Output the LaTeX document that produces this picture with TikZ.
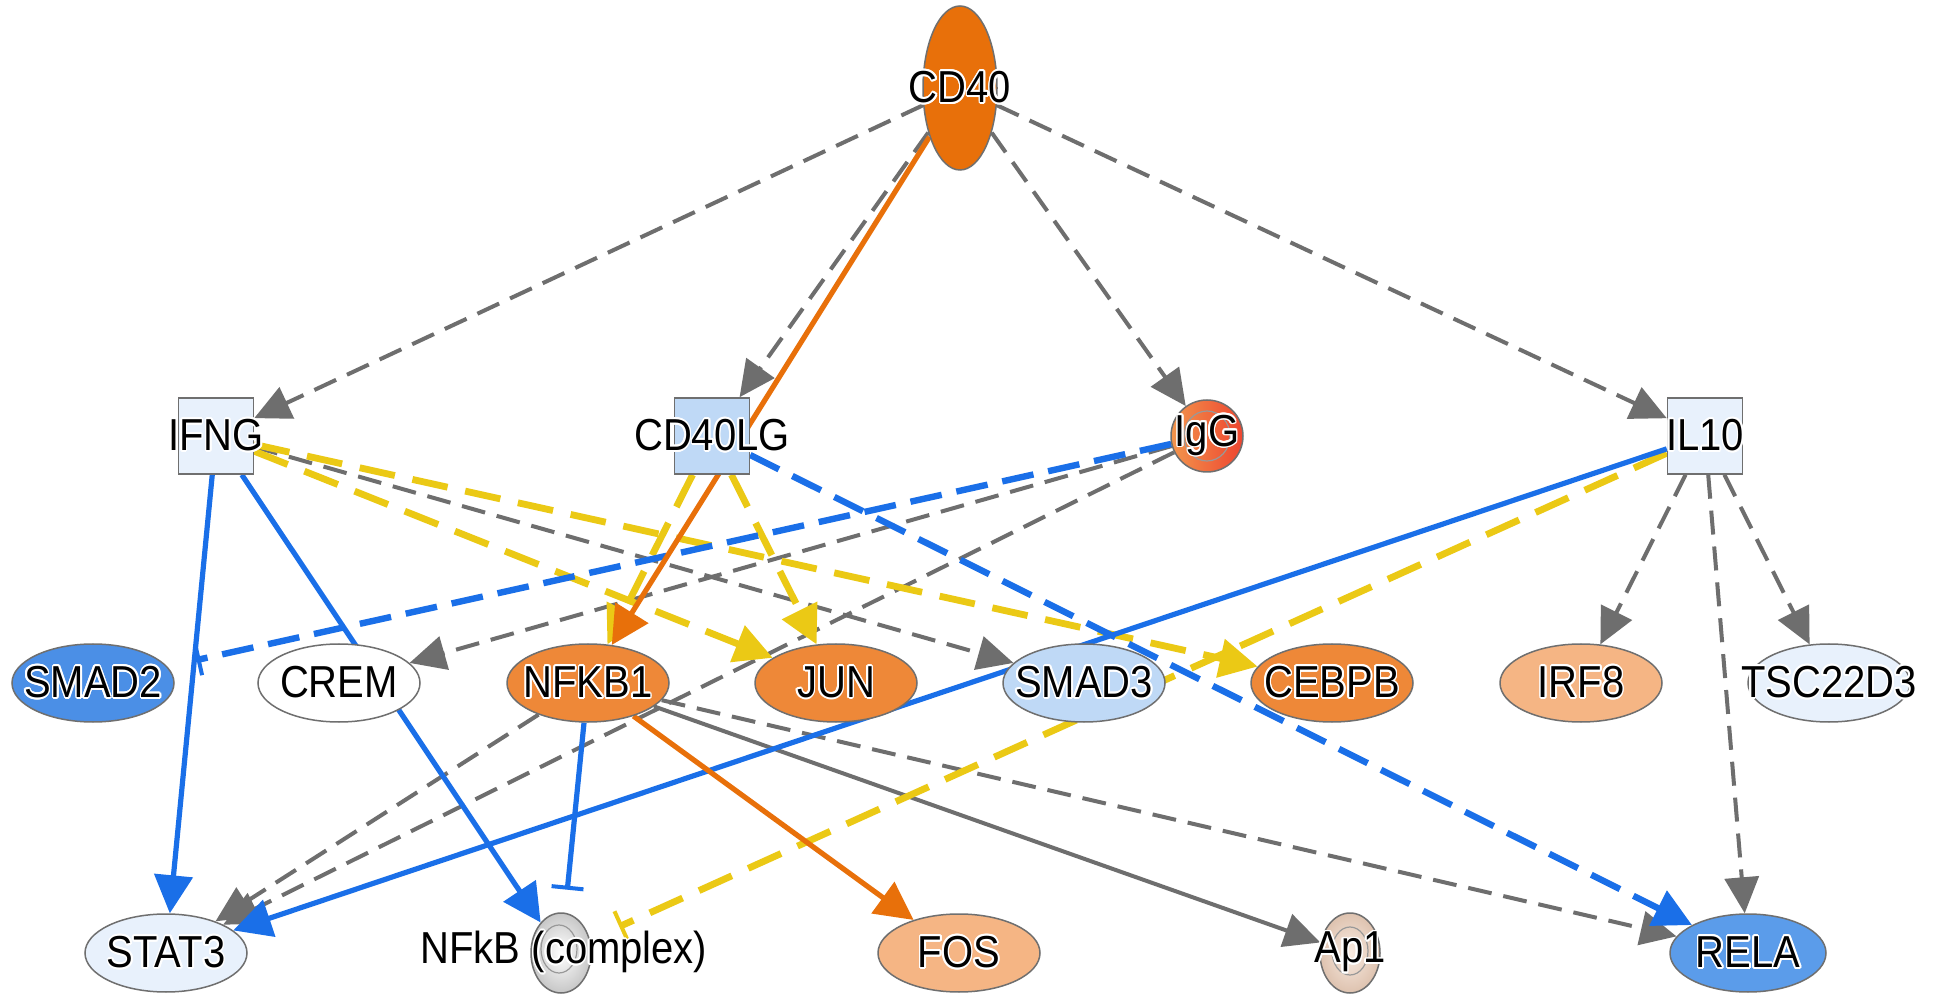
\documentclass[tikz,border=0pt]{standalone}
\usepackage{fontspec}
\setmainfont{Liberation Sans}
\usepackage{graphicx}
\usepackage[copies]{contour}
\contourlength{0.8pt}
\contournumber{16}
\usetikzlibrary{arrows.meta,shapes.geometric}

\pgfdeclarelayer{canvas}
\pgfdeclarelayer{links}
\pgfsetlayers{canvas,links,main}

% node fills
\definecolor{nodeline}{HTML}{6F6F6F}
\definecolor{cdorange}{HTML}{E8700A}
\definecolor{midorange}{HTML}{EE8838}
\definecolor{peach}{HTML}{F5B584}
\definecolor{apfill}{HTML}{F1D3BE}
\definecolor{paleblue}{HTML}{E8F1FC}
\definecolor{lightblue}{HTML}{BFD9F6}
\definecolor{deepblue}{HTML}{4B8FE6}
\definecolor{relablue}{HTML}{5B9CEA}
\definecolor{iggleft}{HTML}{F2954C}
\definecolor{iggright}{HTML}{EE4530}
% edge colours
\definecolor{edgegray}{HTML}{6E6E6E}
\definecolor{edgeblue}{HTML}{1A6FE8}
\definecolor{edgeyellow}{HTML}{EBC915}
\definecolor{edgeorange}{HTML}{E8700A}

\newcommand{\genelabel}[1]{\scalebox{1}[1.12]{\contour{white}{#1}}}

\tikzset{
  genetext/.style={font=\fontsize{20}{21}\selectfont, inner sep=0pt, text=black},
  tag/.style={label={[genetext]center:\genelabel{#1}}},
  gene/.style={ellipse, draw=nodeline, line width=0.75pt, minimum width=81pt,
    minimum height=39pt, inner sep=0pt},
  complexnode/.style={ellipse, draw=nodeline, line width=0.75pt, minimum width=30pt,
    minimum height=40pt, inner sep=0pt},
  cytokine/.style={rectangle, draw=nodeline, line width=0.75pt, minimum width=37.5pt,
    minimum height=38pt, inner sep=0pt},
  ring/.style={draw=black!40, line width=0.6pt},
  gdash/.style={draw=edgegray, line width=2pt, dash pattern=on 12pt off 6pt,
    -{Triangle[length=18pt,width=17pt]}},
  gsolid/.style={draw=edgegray, line width=2pt, -{Triangle[length=18pt,width=17pt]}},
  ydash/.style={draw=edgeyellow, line width=3.4pt, dash pattern=on 18pt off 9pt,
    -{Triangle[length=19pt,width=19pt]}},
  bsolid/.style={draw=edgeblue, line width=2.6pt, -{Triangle[length=19pt,width=19pt]}},
  bdash/.style={draw=edgeblue, line width=3.2pt, dash pattern=on 16pt off 7.5pt,
    -{Triangle[length=19pt,width=19pt]}},
  osolid/.style={draw=edgeorange, line width=2.6pt, -{Triangle[length=19pt,width=19pt]}},
  blockend/.style={-{Bar[width=16pt,line width=2pt]}}
}

\begin{document}
\begin{tikzpicture}[x=0.5pt,y=-0.5pt]
\begin{pgfonlayer}{canvas}
  \fill[white] (0,0) rectangle (1940,994);
\end{pgfonlayer}
\useasboundingbox (0,0) rectangle (1940,994);

% top
\node[ellipse, draw=nodeline, line width=0.75pt, fill=cdorange, minimum width=37pt,
  minimum height=82pt, inner sep=0pt, tag=CD40] (cd40) at (960,88) {};

% second row
\node[cytokine, fill=paleblue, tag=IFNG] (ifng) at (216,436) {};
\node[cytokine, fill=lightblue, tag=CD40LG] (cd40lg) at (712,436) {};
\node[ellipse, draw=nodeline, line width=0.75pt, left color=iggleft, right color=iggright,
  minimum width=36pt, minimum height=36pt, inner sep=0pt] (igg) at (1207,436) {};
\draw[draw=black!40, line width=0.6pt] (igg.center) ellipse [x radius=11.5pt, y radius=12.5pt];
\node[genetext] (iggtext) at (igg.center) {\genelabel{IgG}};
\node[cytokine, fill=paleblue, tag=IL10] (il10) at (1705,436) {};

% third row
\node[gene, fill=deepblue, tag=SMAD2] (smad2) at (93,683) {};
\node[gene, fill=white, tag=CREM] (crem) at (339,683) {};
\node[gene, fill=midorange, tag=NFKB1] (nfkb1) at (588,683) {};
\node[gene, fill=midorange, tag=JUN] (jun) at (836,683) {};
\node[gene, fill=lightblue, tag=SMAD3] (smad3) at (1084,683) {};
\node[gene, fill=midorange, tag=CEBPB] (cebpb) at (1332,683) {};
\node[gene, fill=peach, tag=IRF8] (irf8) at (1581,683) {};
\node[gene, fill=paleblue, tag=TSC22D3] (tsc) at (1829,683) {};

% bottom row
\node[gene, fill=paleblue, tag=STAT3] (stat3) at (166,953) {};
\node[complexnode, inner color=white, outer color=black!22] (nfkb) at (561,953) {};
\draw[ring] ([shift={(-2,-4)}]nfkb.center) ellipse [x radius=9pt, y radius=12pt];
\node[genetext] (nfkbtext) at ([xshift=1.5pt]nfkb.center) {\genelabel{NFkB (complex)}};
\node[gene, fill=peach, tag=FOS] (fos) at (959,953) {};
\node[complexnode, inner color=apfill!45!white, outer color=apfill!92!black] (ap1) at (1350,953) {};
\draw[ring] ([shift={(0,-2)}]ap1.center) ellipse [x radius=9pt, y radius=12pt];
\node[genetext] (ap1text) at (ap1.center) {\genelabel{Ap1}};
\node[gene, fill=relablue, minimum width=78pt, tag=RELA] (rela) at (1748,953) {};

\begin{pgfonlayer}{links}
  % grey relations
  \draw[gdash] (cd40) -- (ifng);
  \draw[gdash] (cd40) -- (cd40lg);
  \draw[gdash] (cd40) -- (igg);
  \draw[gdash] (cd40) -- (il10);
  \draw[gdash] (ifng) -- (smad3);
  \draw[gdash] (igg) -- (crem);
  \draw[gdash] (igg) -- (stat3);
  \draw[gdash] (nfkb1) -- (stat3);
  \draw[gdash] (nfkb1) -- (rela);
  \draw[gdash] (il10) -- (irf8);
  \draw[gdash] (il10) -- (tsc);
  \draw[gdash] (il10) -- (rela);
  \draw[gsolid] (nfkb1) -- (ap1);
  % yellow relations
  \draw[ydash] (ifng) -- (jun);
  \draw[ydash] (ifng) -- (cebpb);
  \draw[ydash] (cd40lg) -- (nfkb1);
  \draw[ydash] (cd40lg) -- (jun);
  \draw[ydash, blockend, shorten >=16pt] (il10) -- (nfkb);
  % blue relations
  \draw[bsolid] (ifng) -- (stat3);
  \draw[bsolid] (ifng) -- (nfkb);
  \draw[bsolid] (il10) -- (stat3);
  \draw[bsolid, blockend, shorten >=11.5pt] (nfkb1) -- (nfkb);
  \draw[bdash] (cd40lg) -- (rela);
  \draw[bdash, blockend, shorten >=15pt] (igg) -- (smad2);
  % orange relations
  \draw[osolid] (cd40) -- (nfkb1);
  \draw[osolid] (nfkb1) -- (fos);
\end{pgfonlayer}
\end{tikzpicture}
\end{document}
